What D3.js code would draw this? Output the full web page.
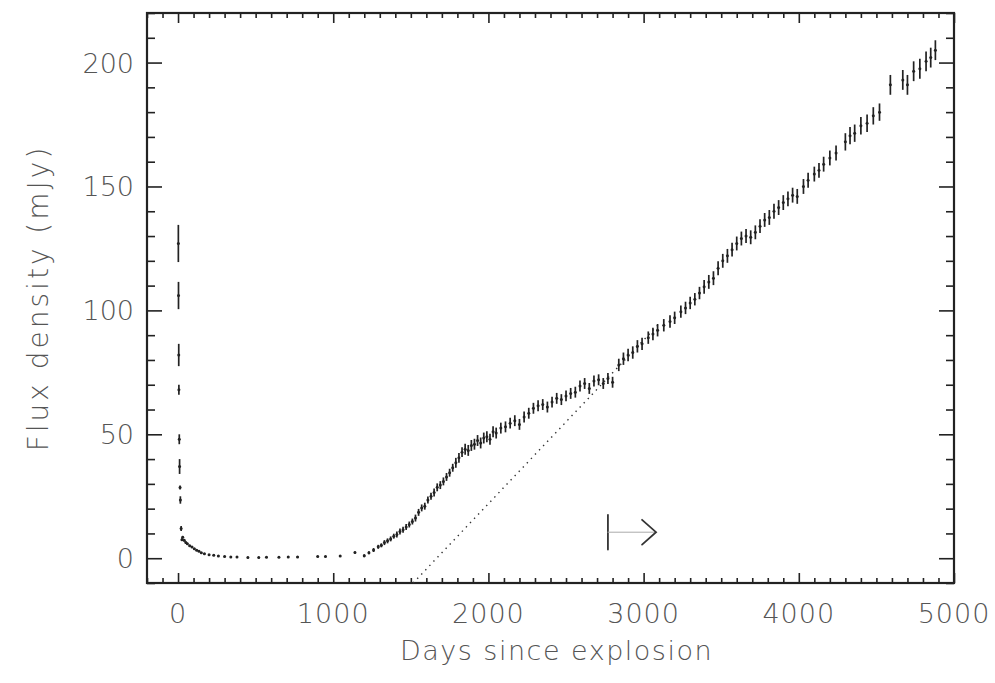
<!DOCTYPE html>
<html>
<head>
<meta charset="utf-8">
<script src="https://cdn.jsdelivr.net/npm/d3@7"></script>
<style>
  body { margin: 0; background: #fff; }
  text { font-family: "DejaVu Sans", sans-serif; font-weight: 200; fill: #555; }
</style>
</head>
<body>
<script>
// light curve: days since explosion, flux density (mJy), error half-length
var days = [
  2, 3, 4.5, 5.5, 8, 10, 13, 15, 20, 25,
  30, 40, 50, 60, 75, 90, 105, 120, 135, 150, 170, 200, 230, 260, 300, 340, 380,
  450, 520, 570, 650, 710, 770, 900, 950, 1045, 1140,
  1200, 1230, 1260, 1290, 1310, 1330, 1350, 1370, 1390, 1410, 1430, 1450, 1470, 1490,
  1510, 1530, 1550, 1570, 1590, 1610, 1630, 1650, 1670, 1690, 1710, 1730, 1750, 1770,
  1790, 1810, 1830, 1850, 1870, 1890, 1910, 1930, 1950, 1970, 1990, 2010, 2030, 2050,
  2080, 2110, 2140, 2170, 2200, 2230, 2260, 2290, 2320, 2350, 2380, 2410, 2440, 2470,
  2500, 2530, 2560, 2590, 2620, 2650, 2680, 2710, 2740, 2770, 2800, 2840, 2870, 2900,
  2930, 2960, 2990, 3030, 3060, 3090, 3130, 3170, 3200, 3240, 3270, 3300, 3330, 3360,
  3390, 3420, 3450, 3480, 3510, 3540, 3570, 3600, 3630, 3660, 3690, 3720, 3750, 3780,
  3810, 3840, 3870, 3900, 3930, 3960, 3990, 4030, 4060, 4100, 4130, 4160, 4200, 4240,
  4300, 4330, 4360, 4400, 4440, 4480, 4520, 4590, 4670, 4700, 4740, 4780, 4820, 4850, 4880
];
var flux = [
  127, 106, 82, 68, 48, 37, 28.5, 23.5, 12, 7.5,
  8.5, 7.2, 6.3, 5.8, 5, 4.5, 3.8, 3.2, 2.8, 2.2, 1.8, 1.4, 1.2, 0.9, 0.7, 0.5, 0.5,
  0.3, 0.3, 0.4, 0.4, 0.5, 0.5, 0.7, 0.7, 0.9, 2.3,
  1.0, 2.2, 3.3, 4.6, 5.2, 6.3, 7.0, 7.8, 8.9, 9.6, 10.8, 11.5, 12.6, 13.6,
  14.8, 16.2, 18.5, 20.3, 21.0, 23.5, 25.0, 26.5, 28.6, 29.5, 31.0, 32.8, 34.5, 36.5,
  38.5, 40.5, 42.8, 44.0, 43.5, 45.5, 46.0, 47.5, 46.5, 48.5, 49.0, 48.0, 51.0, 50.5,
  52.5, 53.0, 54.5, 55.5, 54.0, 57.0, 58.5, 60.5, 61.5, 62.0, 61.0, 63.0, 64.5, 64.0,
  65.5, 66.5, 67.0, 69.5, 70.5, 68.5, 71.5, 72.0, 70.5, 72.5, 71.0, 78.0, 80.5, 82.0,
  83.0, 85.5, 86.5, 89.0, 90.5, 92.0, 94.0, 95.5, 97.0, 99.5, 101.0, 103.0, 104.5, 107.0,
  109.5, 111.5, 113.0, 117.0, 120.0, 122.0, 124.5, 127.0, 129.0, 130.0, 129.5, 131.5, 134.0, 136.5,
  137.5, 140.0, 141.5, 143.5, 145.0, 146.5, 146.0, 150.0, 152.5, 155.0, 156.5, 159.0, 161.5, 163.5,
  168.0, 170.5, 171.5, 174.5, 175.5, 178.5, 180.0, 191.0, 193.0, 191.0, 196.5, 197.5, 200.5, 202.0, 205.0
];
var fluxErr = [
  7.5, 5.5, 4.5, 2, 2, 3, 0.8, 1.5, 1, 0.6,
  0.5, 0.5, 0.4, 0.4, 0.4, 0.4, 0.3, 0.3, 0.3, 0.3, 0.3, 0.3, 0.3, 0.3, 0.3, 0.3, 0.3,
  0.3, 0.3, 0.3, 0.3, 0.3, 0.3, 0.3, 0.3, 0.3, 0.4,
  0.6, 0.6, 0.8, 0.8, 0.8, 1.0, 1.0, 1.0, 1.0, 1.2, 1.2, 1.2, 1.2, 1.2,
  1.2, 1.4, 1.4, 1.4, 1.4, 1.4, 1.4, 1.6, 1.6, 1.6, 1.6, 1.6, 1.6, 1.6,
  2, 2, 2, 2.2, 2.2, 2.2, 2.2, 2.2, 2.2, 2.2, 2.2, 2.2, 2.2, 2.2,
  2.2, 2.2, 2.2, 2.2, 2.2, 2.2, 2.2, 2.2, 2.2, 2.2, 2.2, 2.2, 2.2, 2.2,
  2.2, 2.2, 2.2, 2.2, 2.2, 2.2, 2.2, 2.2, 2.2, 2.2, 2.2, 2.5, 2.5, 2.5,
  2.5, 2.5, 2.5, 2.5, 2.5, 2.5, 2.5, 2.5, 2.5, 2.5, 2.5, 2.5, 2.5, 2.5,
  2.8, 2.8, 2.8, 2.8, 2.8, 2.8, 2.8, 2.8, 2.8, 2.8, 2.8, 2.8, 2.8, 2.8,
  3, 3, 3, 3, 3, 3, 3, 3, 3, 3, 3, 3, 3, 3,
  3.5, 3.5, 3.5, 3.5, 3.5, 3.5, 3.5, 4, 4, 4, 4, 4, 4, 4, 4
];

// dotted linear fit (day, mJy) and the |-> marker
var fitLine = [[1515, -10], [3100, 94.6]];
var markerDays = [2770, 3080];
var markerFlux = 10.5;
var markerHalf = 7;

var xMajor = [0, 1000, 2000, 3000, 4000, 5000];
var yMajor = [0, 50, 100, 150, 200];

var width = 995, height = 683;
var plotL = 147, plotR = 954, plotT = 13, plotB = 583;

var x = d3.scaleLinear().domain([-200, 5000]).range([plotL, plotR]);
var y = d3.scaleLinear().domain([-10, 220]).range([plotB, plotT]);

var svg = d3.select("body").append("svg")
  .attr("width", width)
  .attr("height", height);

var xMinor = d3.range(-200, 5001, 100).filter(function(d) { return xMajor.indexOf(d) < 0; });
var yMinor = d3.range(-10, 221, 10).filter(function(d) { return yMajor.indexOf(d) < 0; });

function drawAxis(axis, tx, ty) {
  var g = svg.append("g")
    .attr("transform", "translate(" + tx + "," + ty + ")")
    .call(axis);
  g.select(".domain").remove();
  g.selectAll("line").attr("stroke", "#222").attr("stroke-width", 1.6);
  g.selectAll("text").remove();
  return g;
}

// ticks point inwards on all four sides
drawAxis(d3.axisBottom(x).tickValues(xMajor).tickSize(-10), 0, plotB);
drawAxis(d3.axisBottom(x).tickValues(xMinor).tickSize(-5), 0, plotB);
drawAxis(d3.axisTop(x).tickValues(xMajor).tickSize(-10), 0, plotT);
drawAxis(d3.axisTop(x).tickValues(xMinor).tickSize(-5), 0, plotT);
drawAxis(d3.axisLeft(y).tickValues(yMajor).tickSize(-15), plotL, 0);
drawAxis(d3.axisLeft(y).tickValues(yMinor).tickSize(-8), plotL, 0);
drawAxis(d3.axisRight(y).tickValues(yMajor).tickSize(-15), plotR, 0);
drawAxis(d3.axisRight(y).tickValues(yMinor).tickSize(-8), plotR, 0);

svg.append("rect")
  .attr("x", plotL)
  .attr("y", plotT)
  .attr("width", plotR - plotL)
  .attr("height", plotB - plotT)
  .attr("fill", "none")
  .attr("stroke", "#222")
  .attr("stroke-width", 2.2);

// tick labels
svg.selectAll(".xlab").data(xMajor).enter().append("text")
  .attr("x", function(d) { return x(d); })
  .attr("y", 623)
  .attr("text-anchor", "middle")
  .attr("font-size", 27)
  .attr("letter-spacing", 1)
  .text(function(d) { return d; });

svg.selectAll(".ylab").data(yMajor).enter().append("text")
  .attr("x", 134)
  .attr("y", function(d) { return y(d) + 10; })
  .attr("text-anchor", "end")
  .attr("font-size", 27)
  .text(function(d) { return d; });

svg.append("text")
  .attr("x", (plotL + plotR) / 2 + 6)
  .attr("y", 660)
  .attr("text-anchor", "middle")
  .attr("font-size", 27)
  .attr("letter-spacing", 1.5)
  .text("Days since explosion");

svg.append("text")
  .attr("transform", "translate(48," + ((plotT + plotB) / 2) + ") rotate(-90)")
  .attr("text-anchor", "middle")
  .attr("font-size", 28)
  .attr("letter-spacing", 3)
  .text("Flux density (mJy)");

// dotted fit line
var line = d3.line()
  .x(function(d) { return x(d[0]); })
  .y(function(d) { return y(d[1]); });

svg.append("path")
  .datum(fitLine)
  .attr("d", line)
  .attr("fill", "none")
  .attr("stroke", "#333")
  .attr("stroke-width", 1.4)
  .attr("stroke-dasharray", "1.4,4.5");

// data points with error bars
var obs = days.map(function(d, i) { return { day: d, flux: flux[i], err: fluxErr[i] }; });

var pts = svg.append("g");
pts.selectAll("line").data(obs).enter().append("line")
  .attr("x1", function(d) { return x(d.day); })
  .attr("x2", function(d) { return x(d.day); })
  .attr("y1", function(d) { return y(d.flux + d.err); })
  .attr("y2", function(d) { return y(d.flux - d.err); })
  .attr("stroke", "#222")
  .attr("stroke-width", 1.7);
pts.selectAll("circle").data(obs).enter().append("circle")
  .attr("cx", function(d) { return x(d.day); })
  .attr("cy", function(d) { return y(d.flux); })
  .attr("r", 1.5)
  .attr("fill", "#222");

// |-> marker
var mk = svg.append("g").attr("stroke-linecap", "round");
mk.append("line")
  .attr("x1", x(markerDays[0])).attr("x2", x(markerDays[0]))
  .attr("y1", y(markerFlux + markerHalf)).attr("y2", y(markerFlux - markerHalf))
  .attr("stroke", "#333").attr("stroke-width", 1.8);
mk.append("line")
  .attr("x1", x(markerDays[0])).attr("x2", x(markerDays[1]))
  .attr("y1", y(markerFlux)).attr("y2", y(markerFlux))
  .attr("stroke", "#aaa").attr("stroke-width", 1);
mk.append("path")
  .attr("d", line([[markerDays[1] - 90, markerFlux + 5], [markerDays[1], markerFlux], [markerDays[1] - 90, markerFlux - 5]]))
  .attr("fill", "none")
  .attr("stroke", "#333").attr("stroke-width", 1.8);
</script>
</body>
</html>
